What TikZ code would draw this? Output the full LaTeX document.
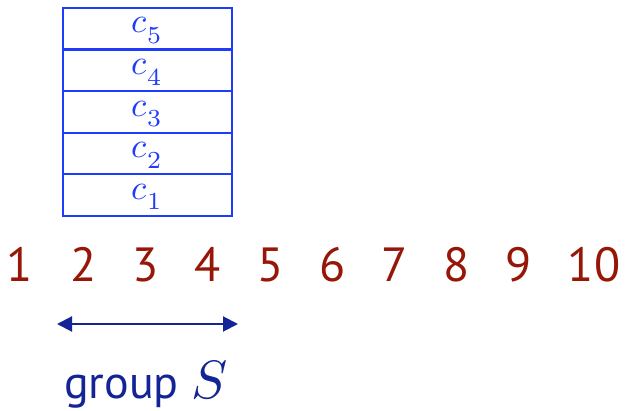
\documentclass[tikz,border=0pt]{standalone}
\usepackage[no-math]{fontspec}
\setmainfont{PT Sans}
\usetikzlibrary{arrows.meta}
\definecolor{boxblue}{RGB}{30,60,250}
\definecolor{numred}{RGB}{150,22,8}
\definecolor{navy}{RGB}{20,35,150}
\newcommand{\cvar}[1]{\scalebox{3.5}{\normalsize$c\kern0.2pt\raisebox{-3pt}{$\scriptstyle #1$}$}}
\tikzset{
  cell/.style={draw=boxblue, line width=2.2pt, minimum width=169pt, minimum height=41.6pt, inner sep=0pt, text=boxblue},
  num/.style={text=numred, font=\fontsize{48}{50}\selectfont, anchor=base, inner sep=0pt},
}
\begin{document}
\begin{tikzpicture}[x=1pt,y=-1pt]
\useasboundingbox (0,0) rectangle (625,411);
\foreach \i/\y in {5/28.8,4/70.4,3/112.0,2/153.6,1/195.2}
  \node[cell] (c\i) at (147.5,\y) {};
\foreach \i/\y in {5/33,4/74.6,3/116.2,2/157.8,1/199.4}
  \node[anchor=base west, inner sep=0pt, text=boxblue] (t\i) at (131,\y) {\cvar{\i}};
\foreach \i/\x in {1/20,2/84,3/146,4/208,5/271,6/333,7/395,8/457,9/519,10/594}
  \node[num] (n\i) at (\x,282) {\i};
\coordinate (aL) at (57,324);
\coordinate (aR) at (238,324);
\draw[navy, line width=2pt, {Triangle[length=15pt,width=15pt]}-{Triangle[length=15pt,width=15pt]}] (aL) -- (aR);
\node[text=navy, anchor=base west, inner sep=0pt, font=\fontsize{46}{48}\selectfont] (g) at (64,399) {group \scalebox{5.4}{\normalsize$S$}};
\end{tikzpicture}
\end{document}
